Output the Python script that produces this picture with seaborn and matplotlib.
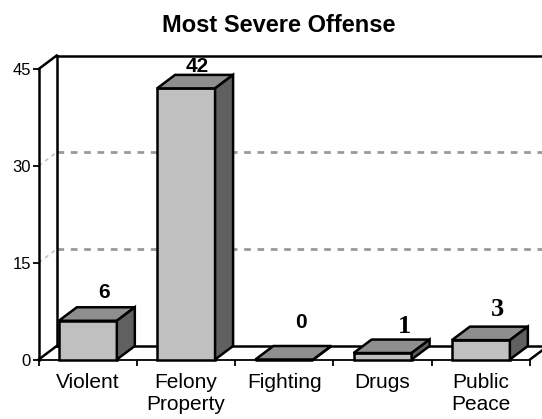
import matplotlib
matplotlib.use('Agg')
import matplotlib.pyplot as plt
import pandas as pd
import seaborn as sns

# Data
categories = ['Violent', 'Felony\nProperty', 'Fighting', 'Drugs', 'Public\nPeace']
offenses = [6, 42, 0, 1, 3]
y_ticks = [0, 15, 30, 45]

sns.set_theme(style="white")
plt.rcParams['font.family'] = 'Liberation Sans'

df = pd.DataFrame({'Offense': categories, 'Count': offenses})

fig = plt.figure(figsize=(5.42, 4.19), dpi=100)
W, H = 542, 419
ax = fig.add_axes([38.7 / W, 1 - 359.5 / H, (530 - 38.7) / W, (359.5 - 69) / H])
ax.patch.set_alpha(0)

LW = 1.8
sns.barplot(data=df, x='Offense', y='Count', color='#c0c0c0', saturation=1, width=0.59,
            edgecolor='black', linewidth=LW, ax=ax, zorder=4)
ax.set_xlim(-0.5, len(categories) - 0.5)
ax.set_ylim(0, 45)
ax.set_xlabel('')
ax.set_ylabel('')

# depth of the fake 3D box, in data units
dx = 18 / 98.26
dy = 13.5 / 6.456
x0, x1 = -0.5, len(categories) - 0.5
black = dict(color='black', lw=LW, clip_on=False, solid_capstyle='projecting')

# back wall and floor
ax.plot([x0 + dx, x0 + dx], [dy, 45 + dy], zorder=2, **black)
ax.plot([x0 + dx, x1 + dx], [45 + dy, 45 + dy], zorder=2, **black)
ax.plot([x0, x0 + dx], [45, 45 + dy], zorder=2, **black)
ax.plot([x0 + dx, x1 + dx], [dy, dy], zorder=2, **black)
ax.plot([x0, x0 + dx], [0, dy], zorder=2, **black)
ax.plot([x1, x1 + dx], [0, dy], zorder=2, **black)

# dashed gridlines on the wall
for t in y_ticks[1:3]:
    ax.plot([x0 + dx, x1 + dx], [t + dy, t + dy], color='#999999', lw=2.0,
            dashes=(2.4, 2.4), clip_on=False, zorder=1)
    ax.plot([x0, x0 + dx], [t, t + dy], color='#c4c4c4', lw=1.2,
            dashes=(2.4, 2.4), clip_on=False, zorder=1)

# top and side faces of each bar
for bar, v in zip(ax.patches, offenses):
    l, r = bar.get_x(), bar.get_x() + bar.get_width()
    ax.fill([l, r, r + dx, l + dx], [v, v, v + dy, v + dy], facecolor='#8e8e8e',
            edgecolor='black', lw=LW, clip_on=False, zorder=5, joinstyle='miter')
    ax.fill([r, r + dx, r + dx, r], [0, dy, v + dy, v], facecolor='#606060',
            edgecolor='black', lw=LW, clip_on=False, zorder=5, joinstyle='miter')
    bar.set_clip_on(False)

# value labels, a mix of fonts as in the original
label_fonts = ['Liberation Sans', 'Liberation Sans', 'Liberation Sans', 'Liberation Serif', 'Liberation Serif']
label_sizes = [15, 15, 15, 19, 19]
label_shift = [(16, 15), (11, 8.5), (17, 24), (22, 13.5), (17, 17)]
for i, v in enumerate(offenses):
    ax.annotate(str(v), xy=(i, v + dy), xytext=label_shift[i], textcoords=('offset pixels'),
                ha='center', va='center', family=label_fonts[i], fontweight='bold',
                fontsize=label_sizes[i], color='black', annotation_clip=False, zorder=6)

# axes and ticks
sns.despine(ax=ax, top=True, right=True)
ax.spines['left'].set_linewidth(LW)
ax.spines['left'].set_color('black')
ax.spines['bottom'].set_linewidth(1.3)
ax.spines['bottom'].set_color('black')
ax.spines['left'].set_zorder(3)
ax.spines['bottom'].set_zorder(3)
ax.set_yticks(y_ticks)
ax.tick_params(axis='y', left=True, length=4.5, width=1.3, color='black', labelsize=12,
               labelcolor='black', pad=1)
ax.set_xticks(range(len(categories)))
ax.set_xticklabels(categories, fontsize=15, color='black', linespacing=1.15)
ax.set_xticks([x0 + i for i in range(len(categories) + 1)], minor=True)
ax.tick_params(axis='x', which='major', bottom=False, length=0, pad=10)
ax.tick_params(axis='x', which='minor', bottom=True, length=4, width=1.3, color='black')

fig.text(279 / W, 1 - 25 / H, 'Most Severe Offense', ha='center', va='center',
         fontsize=17, fontweight='bold', color='black')

fig.savefig('out.png', dpi=100)
